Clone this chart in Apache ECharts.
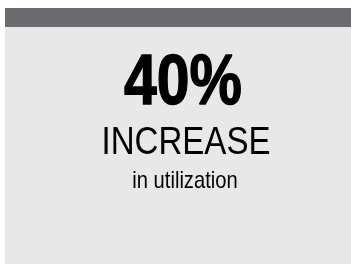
<!DOCTYPE html>
<html>
<head>
<meta charset="utf-8">
<script src="https://cdn.jsdelivr.net/npm/echarts@6/dist/echarts.min.js"></script>
<style>
html,body{margin:0;padding:0;background:#ffffff;}
#chart{width:351px;height:264px;}
</style>
</head>
<body>
<div id="chart"></div>
<script>
const statValue = ["40%"];
const statHeadline = ["INCREASE"];
const statSubtitle = ["in utilization"];

const chart = echarts.init(document.getElementById('chart'), null, {renderer: 'canvas'});
const fam = '"Liberation Sans", Arial, sans-serif';
chart.setOption({
  backgroundColor: '#ffffff',
  animation: false,
  graphic: [
    {type: 'rect', shape: {x: 5, y: 8, width: 346, height: 256}, style: {fill: '#e8e8e8'}},
    {type: 'rect', shape: {x: 5, y: 8, width: 346, height: 19}, style: {fill: '#6b6c70'}},
    {type: 'text', x: 183, y: 84, scaleX: 0.83, style: {text: statValue[0], font: 'bold 71px ' + fam, fill: '#000000', stroke: '#000000', lineWidth: 1.4, align: 'center', verticalAlign: 'middle'}},
    {type: 'text', x: 186, y: 144, scaleX: 0.87, style: {text: statHeadline[0], font: '38px ' + fam, fill: '#000000', align: 'center', verticalAlign: 'middle'}},
    {type: 'text', x: 185, y: 181.5, scaleX: 0.84, style: {text: statSubtitle[0], font: '24px ' + fam, fill: '#000000', align: 'center', verticalAlign: 'middle'}}
  ]
});
</script>
</body>
</html>
